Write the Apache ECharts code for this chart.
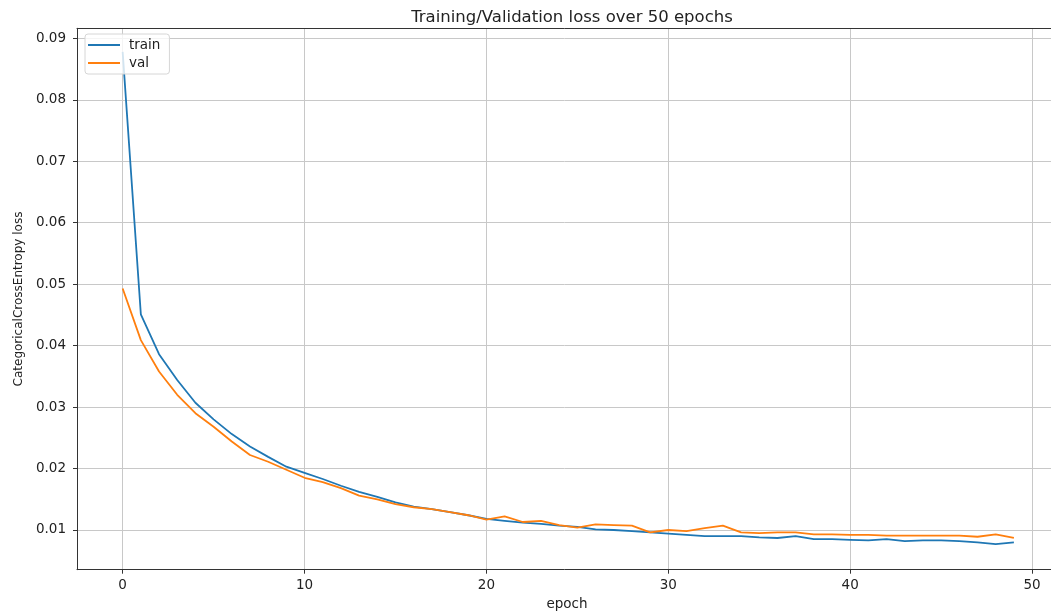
<!DOCTYPE html>
<html>
<head>
<meta charset="utf-8">
<script src="https://cdn.jsdelivr.net/npm/echarts@6/dist/echarts.min.js"></script>
<style>
  html, body { margin: 0; padding: 0; background: #fff; }
  #chart { width: 1051px; height: 611px; }
</style>
</head>
<body>
<div id="chart"></div>
<script>
// loss per epoch
const epochs = [];
for (let i = 0; i < 50; i++) epochs.push(i);

const trainLoss = [
  0.0878, 0.0451, 0.0386, 0.0344, 0.0307, 0.0280, 0.0256, 0.0236, 0.0219, 0.0203,
  0.0193, 0.0183, 0.0172, 0.0162, 0.0154, 0.0145, 0.0138, 0.0134, 0.0129, 0.0124,
  0.0118, 0.0115, 0.0112, 0.0110, 0.0107, 0.0105, 0.0101, 0.0100, 0.0098, 0.0096,
  0.0094, 0.0092, 0.0090, 0.0090, 0.0090, 0.0088, 0.0087, 0.0090, 0.0085, 0.0085,
  0.0084, 0.0083, 0.0085, 0.0082, 0.0083, 0.0083, 0.0082, 0.0080, 0.0077, 0.0080
];
const valLoss = [
  0.0493, 0.0409, 0.0358, 0.0320, 0.0290, 0.0268, 0.0244, 0.0222, 0.0211, 0.0198,
  0.0185, 0.0178, 0.0168, 0.0156, 0.0150, 0.0142, 0.0137, 0.0134, 0.0129, 0.0124,
  0.0117, 0.0122, 0.0113, 0.0115, 0.0108, 0.0104, 0.0109, 0.0108, 0.0107, 0.0096,
  0.0100, 0.0098, 0.0103, 0.0107, 0.0096, 0.0095, 0.0096, 0.0096, 0.0093, 0.0093,
  0.0092, 0.0092, 0.0091, 0.0091, 0.0091, 0.0091, 0.0091, 0.0089, 0.0093, 0.0087
];
const xTicks = [0, 10, 20, 30, 40, 50];
const yTicks = [0.01, 0.02, 0.03, 0.04, 0.05, 0.06, 0.07, 0.08, 0.09];

const font = 'DejaVu Sans';
const inkColor = '#333333';
const xMin = -2.51, xMax = 51.37;

function pairs(ys) {
  return epochs.map((e, i) => [e, ys[i]]);
}

const chart = echarts.init(document.getElementById('chart'));

const option = {
  animation: false,
  backgroundColor: '#ffffff',
  title: {
    text: 'Training/Validation loss over 50 epochs',
    left: 567,
    top: 4,
    textAlign: 'center',
    textStyle: {
      fontFamily: font,
      fontSize: 16.5,
      fontWeight: 'normal',
      color: '#222222'
    }
  },
  legend: {
    orient: 'vertical',
    left: 85,
    top: 34,
    icon: 'rect',
    itemWidth: 32,
    itemHeight: 2,
    itemGap: 4,
    padding: [4, 9, 4, 3],
    backgroundColor: 'rgba(255,255,255,0.8)',
    borderColor: '#d6d6d6',
    borderWidth: 1,
    borderRadius: 3,
    textStyle: {
      fontFamily: font,
      fontSize: 13.5,
      color: '#222222',
      padding: [0, 0, 0, 4]
    },
    data: ['train', 'val']
  },
  grid: {
    left: 77,
    top: 28.3,
    width: 980,
    height: 541.4,
    outerBoundsMode: 'none',
    containLabel: false
  },
  xAxis: [
    {
      type: 'value',
      min: xMin,
      max: xMax,
      splitNumber: 5,
      name: 'epoch',
      nameLocation: 'middle',
      nameGap: 26,
      nameTextStyle: { fontFamily: font, fontSize: 13.5, color: '#222222' },
      axisLine: { show: true, onZero: false, lineStyle: { color: inkColor, width: 1 } },
      axisTick: { show: true, length: 4, lineStyle: { color: inkColor }, customValues: xTicks },
      axisLabel: {
        fontFamily: font,
        fontSize: 13.5,
        color: '#222222',
        margin: 9,
        customValues: xTicks
      },
      splitLine: { show: true, lineStyle: { color: '#c8c8c8', width: 1 } }
    },
    {
      // top spine only
      type: 'value',
      position: 'top',
      min: xMin,
      max: xMax,
      axisLine: { show: true, onZero: false, lineStyle: { color: inkColor, width: 1 } },
      axisTick: { show: false },
      axisLabel: { show: false },
      splitLine: { show: false }
    }
  ],
  yAxis: {
    type: 'value',
    min: 0.00354,
    max: 0.09163,
    splitNumber: 9,
    name: 'CategoricalCrossEntropy loss',
    nameLocation: 'middle',
    nameRotate: 90,
    nameGap: 52,
    nameTextStyle: { fontFamily: font, fontSize: 12, color: '#222222' },
    axisLine: { show: true, onZero: false, lineStyle: { color: inkColor, width: 1 } },
    axisTick: { show: true, length: 4, lineStyle: { color: inkColor }, customValues: yTicks },
    axisLabel: {
      fontFamily: font,
      fontSize: 13.5,
      color: '#222222',
      margin: 11,
      customValues: yTicks,
      formatter: v => v.toFixed(2)
    },
    splitLine: { show: true, lineStyle: { color: '#c8c8c8', width: 1 } }
  },
  series: [
    {
      name: 'train',
      type: 'line',
      data: pairs(trainLoss),
      symbol: 'none',
      color: '#1f77b4',
      lineStyle: { width: 1.8, color: '#1f77b4' },
      z: 3
    },
    {
      name: 'val',
      type: 'line',
      data: pairs(valLoss),
      symbol: 'none',
      color: '#ff7f0e',
      lineStyle: { width: 1.8, color: '#ff7f0e' },
      z: 4
    }
  ]
};

chart.setOption(option);
</script>
</body>
</html>
